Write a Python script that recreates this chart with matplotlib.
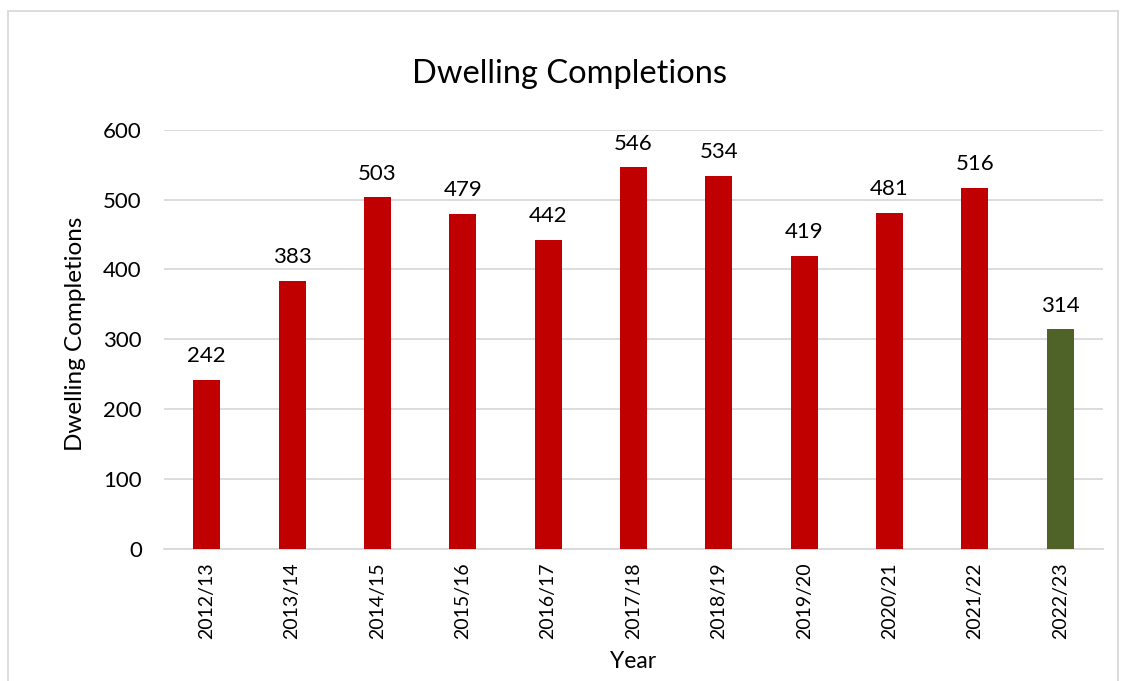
import matplotlib
matplotlib.use("Agg")
import matplotlib.pyplot as plt
from matplotlib.patches import Rectangle

years = ["2012/13", "2013/14", "2014/15", "2015/16", "2016/17", "2017/18",
         "2018/19", "2019/20", "2020/21", "2021/22", "2022/23"]
completions = [242, 383, 503, 479, 442, 546, 534, 419, 481, 516, 314]
bar_colors = ["#C00000"] * 10 + ["#4F6228"]
yticks = [0, 100, 200, 300, 400, 500, 600]

W, H = 1123, 681
fig = plt.figure(figsize=(W / 100, H / 100), dpi=100)
fig.patch.set_facecolor("white")

# outer chart border
fig.add_artist(Rectangle((8 / W, -0.01), (1118 - 8) / W, 1 - 11 / H + 0.01,
                         transform=fig.transFigure, fill=False,
                         edgecolor="#D9D9D9", linewidth=1.3))

ax = fig.add_axes([164 / W, 1 - 548.7 / H, (1103 - 164) / W, (548.7 - 129.7) / H])
x = list(range(len(years)))
bars = ax.bar(x, completions, width=0.316, color=bar_colors, zorder=3)
ax.set_xlim(-0.5, len(years) - 0.5)
ax.set_ylim(0, 600)
ax.set_yticks(yticks)
ax.yaxis.grid(True, color="#D9D9D9", linewidth=1.3, zorder=0)
for s in ["top", "right", "left"]:
    ax.spines[s].set_visible(False)
ax.spines["bottom"].set_color("#D9D9D9")
ax.spines["bottom"].set_linewidth(1.3)
ax.tick_params(axis="both", length=0)
ax.tick_params(axis="y", pad=16, labelsize=16)
ax.set_xticks(x)
ax.set_xticklabels(years, rotation=90, fontsize=14, family="Lato")
ax.tick_params(axis="x", pad=10)
for lab in ax.get_yticklabels():
    lab.set_family("Lato")

for xi, v in zip(x, completions):
    ax.annotate(str(v), (xi, v), xytext=(0, 10), textcoords="offset points",
                ha="center", va="bottom", fontsize=16, family="Lato", color="#000000")

fig.text(570 / W, 1 - 74 / H, "Dwelling Completions", ha="center", va="center",
         fontsize=23.5, family="Lato")
fig.text(76 / W, 1 - 334 / H, "Dwelling Completions", ha="center", va="center",
         rotation=90, fontsize=17.5, family="Lato")
fig.text(633 / W, 1 - 661 / H, "Year", ha="center", va="center",
         fontsize=16.5, family="Lato")

fig.savefig("out.png", dpi=100)
